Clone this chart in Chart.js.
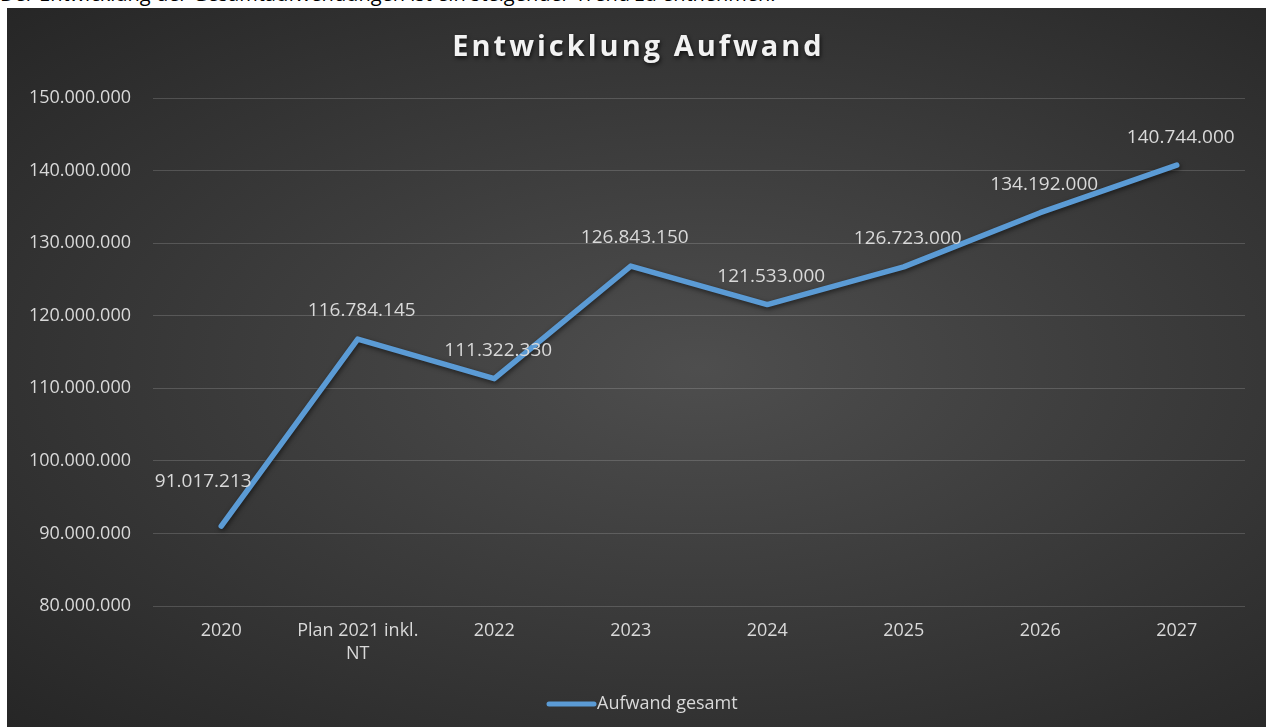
<!DOCTYPE html>
<html>
<head>
<meta charset="utf-8">
<script src="https://cdn.jsdelivr.net/npm/chart.js@4.4.0/dist/chart.umd.min.js"></script>
<style>
  html, body { margin: 0; padding: 0; background: #fff; width: 1266px; height: 727px; overflow: hidden; }
  #intro { position: absolute; left: 0; top: -18px; font-family: "Open Sans", sans-serif; font-size: 20px; line-height: 24px; color: #000; white-space: nowrap; }
  #wrap { position: absolute; left: 7px; top: 8px; width: 1259px; height: 719px;
          background: radial-gradient(ellipse farthest-corner at 55% 50%, #4e4e4e 0%, #3a3a3a 50%, #262626 100%); }
  canvas { display: block; }
</style>
</head>
<body>
<div id="intro">Der Entwicklung der Gesamtaufwendungen ist ein steigender Trend zu entnehmen.</div>
<div id="wrap"><canvas id="c" width="1259" height="719"></canvas></div>
<script>
const titleText = "Entwicklung Aufwand";
const seriesName = "Aufwand gesamt";
const categories = ["2020", ["Plan 2021 inkl.", "NT"], "2022", "2023", "2024", "2025", "2026", "2027"];
const values = [91017213, 116784145, 111322330, 126843150, 121533000, 126723000, 134192000, 140744000];
const yMin = 80000000, yMax = 150000000, yStep = 10000000;

const fmt = v => String(Math.round(v)).replace(/\B(?=(\d{3})+(?!\d))/g, ".");
const FONT = '"Open Sans", sans-serif';
const TXT = '#d9d9d9';
const BLUE = '#5b9bd5';

const titleAndLegend = {
  id: 'titleAndLegend',
  afterDraw(chart) {
    const ctx = chart.ctx;
    ctx.save();
    ctx.font = 'bold 29px ' + FONT;
    ctx.letterSpacing = '3px';
    ctx.textAlign = 'center';
    ctx.textBaseline = 'middle';
    ctx.shadowColor = 'rgba(0,0,0,0.7)';
    ctx.shadowBlur = 4;
    ctx.shadowOffsetX = 1;
    ctx.shadowOffsetY = 2;
    ctx.fillStyle = '#f2f2f2';
    ctx.fillText(titleText, chart.width / 2 + 2, 40);
    ctx.restore();

    // legend
    ctx.save();
    const ly = 696;
    ctx.strokeStyle = BLUE;
    ctx.lineWidth = 5;
    ctx.lineCap = 'round';
    ctx.beginPath();
    ctx.moveTo(542, ly);
    ctx.lineTo(587, ly);
    ctx.stroke();
    ctx.font = '18px ' + FONT;
    ctx.fillStyle = TXT;
    ctx.textAlign = 'left';
    ctx.textBaseline = 'middle';
    ctx.fillText(seriesName, 590, ly);
    ctx.restore();
  }
};

const lineShadow = {
  id: 'lineShadow',
  beforeDatasetDraw(chart) {
    const ctx = chart.ctx;
    ctx.save();
    ctx.shadowColor = 'rgba(0,0,0,0.55)';
    ctx.shadowBlur = 5;
    ctx.shadowOffsetX = 1;
    ctx.shadowOffsetY = 2;
  },
  afterDatasetDraw(chart) { chart.ctx.restore(); }
};

const dataLabels = {
  id: 'dataLabels',
  afterDatasetsDraw(chart) {
    const ctx = chart.ctx;
    const meta = chart.getDatasetMeta(0);
    ctx.save();
    ctx.font = '19px ' + FONT;
    ctx.fillStyle = TXT;
    ctx.textAlign = 'center';
    ctx.textBaseline = 'middle';
    meta.data.forEach((pt, i) => {
      let dx = 4, dy = -28;
      if (i === 0) { dx = -18; dy = -44; }
      ctx.fillText(fmt(chart.data.datasets[0].data[i]), pt.x + dx, pt.y + dy);
    });
    ctx.restore();
  }
};

new Chart(document.getElementById('c'), {
  type: 'line',
  data: {
    labels: categories,
    datasets: [{
      label: seriesName,
      data: values,
      borderColor: BLUE,
      backgroundColor: BLUE,
      borderWidth: 5.5,
      borderJoinStyle: 'round',
      borderCapStyle: 'round',
      pointRadius: 0,
      pointHoverRadius: 0,
      tension: 0,
      fill: false
    }]
  },
  options: {
    responsive: false,
    animation: false,
    events: [],
    layout: { padding: { top: 90, right: 21, bottom: 0, left: 0 } },
    plugins: {
      title: { display: false },
      tooltip: { enabled: false },
      legend: { display: false }
    },
    scales: {
      x: {
        offset: true,
        afterFit(scale) { scale.height = 121; },
        grid: { display: false, drawTicks: false },
        border: { display: false },
        ticks: { color: TXT, font: { family: FONT, size: 18, lineHeight: 1.3 }, padding: 13, maxRotation: 0, autoSkip: false }
      },
      y: {
        min: yMin, max: yMax,
        afterFit(scale) { scale.width = 146; },
        grid: { color: 'rgba(255,255,255,0.16)', lineWidth: 1, drawTicks: false },
        border: { display: false },
        ticks: { stepSize: yStep, color: TXT, font: { family: FONT, size: 18 }, padding: 22, callback: v => fmt(v) }
      }
    }
  },
  plugins: [titleAndLegend, lineShadow, dataLabels]
});
</script>
</body>
</html>
